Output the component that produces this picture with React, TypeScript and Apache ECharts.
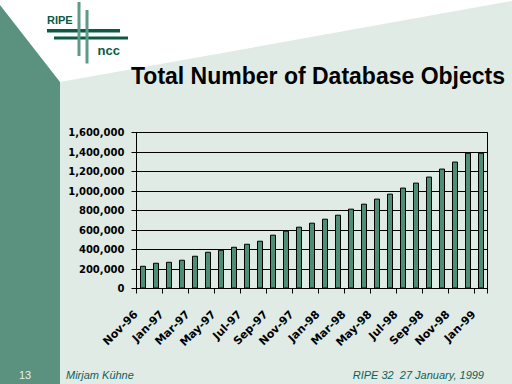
import React, { useEffect, useRef } from "react";
import * as echarts from "echarts";

const months: string[] = [
  "Nov-96", "Dec-96", "Jan-97", "Feb-97", "Mar-97", "Apr-97", "May-97", "Jun-97", "Jul-97",
  "Aug-97", "Sep-97", "Oct-97", "Nov-97", "Dec-97", "Jan-98", "Feb-98", "Mar-98", "Apr-98",
  "May-98", "Jun-98", "Jul-98", "Aug-98", "Sep-98", "Oct-98", "Nov-98", "Dec-98", "Jan-99",
];

const objectCounts: number[] = [
  233000, 264000, 274000, 295000, 336000, 377000, 397000, 428000, 459000,
  490000, 552000, 593000, 634000, 675000, 716000, 757000, 819000, 870000,
  922000, 973000, 1035000, 1086000, 1148000, 1230000, 1302000, 1392000, 1392000,
];

const titleText = "Total Number of Database Objects";
const footerPage = "13";
const footerAuthor = "Mirjam Kühne";
const footerEvent = "RIPE 32  27 January, 1999";

const STRIP = "#5a917f";
const LIGHT = "#dfebe4";
const BAR = "#4e8d78";
const LOGO_DARK = "#0b5a45";
const LOGO_LIGHT = "#5e9a85";
const FOOT = "#11605a";

export default function App() {
  const ref = useRef<HTMLDivElement>(null);
  useEffect(() => {
    if (!ref.current) return;
    const chart = echarts.init(ref.current, null, { renderer: "svg" });
    chart.setOption({
      animation: false,
      backgroundColor: "#ffffff",
      graphic: [
        { type: "polygon", z: -10, shape: { points: [[0, 5], [60, 82], [60, 384], [0, 384]] }, style: { fill: STRIP } },
        { type: "polygon", z: -10, shape: { points: [[60, 82], [512, 1], [512, 384], [60, 384]] }, style: { fill: LIGHT } },
        { type: "rect", z: 1, shape: { x: 47, y: 29, width: 73, height: 3.5 }, style: { fill: LOGO_DARK } },
        { type: "rect", z: 1, shape: { x: 54, y: 36.5, width: 74, height: 3 }, style: { fill: LOGO_DARK } },
        { type: "rect", z: 2, shape: { x: 77.5, y: 2, width: 3, height: 54 }, style: { fill: LOGO_LIGHT } },
        { type: "rect", z: 2, shape: { x: 85.5, y: 10, width: 3, height: 53.5 }, style: { fill: LOGO_LIGHT } },
        { type: "text", z: 3, x: 47, y: 14, style: { text: "RIPE", fill: LOGO_DARK, font: "bold 11px 'Liberation Sans', Arial, sans-serif", textVerticalAlign: "top" } },
        { type: "text", z: 3, x: 97.5, y: 44, style: { text: "ncc", fill: LOGO_DARK, font: "bold 13px 'Liberation Sans', Arial, sans-serif", textVerticalAlign: "top" } },
        { type: "text", z: 3, x: 318, y: 64, style: { text: titleText, fill: "#000", font: "bold 23px 'Liberation Sans', Arial, sans-serif", textAlign: "center", textVerticalAlign: "top" } },
        { type: "text", z: 3, x: 25, y: 369, style: { text: footerPage, fill: "#e8f0ec", font: "11px 'Liberation Sans', Arial, sans-serif", textAlign: "center", textVerticalAlign: "top" } },
        { type: "text", z: 3, x: 66, y: 369, style: { text: footerAuthor, fill: FOOT, font: "italic 11px 'Liberation Sans', Arial, sans-serif", textVerticalAlign: "top" } },
        { type: "text", z: 3, x: 484, y: 369, style: { text: footerEvent, fill: FOOT, font: "italic 11px 'Liberation Sans', Arial, sans-serif", textAlign: "right", textVerticalAlign: "top" } },
      ],
      grid: {
        left: 136.5,
        right: 24.5,
        top: 132.5,
        bottom: 95.5,
        show: true,
        backgroundColor: "transparent",
        borderColor: "#000",
        borderWidth: 1,
      },
      xAxis: {
        type: "category",
        data: months,
        axisLine: { lineStyle: { color: "#000", width: 1 } },
        axisTick: { show: true, interval: 1, length: 5, lineStyle: { color: "#000" } },
        axisLabel: {
          interval: 1,
          rotate: 45,
          margin: 17,
          color: "#000",
          fontFamily: "'DejaVu Sans', sans-serif",
          fontWeight: "bold",
          fontSize: 11,
          formatter: (v: string) => `${v}{s| }`,
          rich: { s: { width: 10, fontSize: 11 } },
        },
        splitLine: { show: false },
      },
      yAxis: {
        type: "value",
        min: 0,
        max: 1600000,
        interval: 200000,
        axisLine: { show: true, lineStyle: { color: "#000", width: 1 } },
        axisTick: { show: true, length: 5, lineStyle: { color: "#000" } },
        splitLine: { show: true, lineStyle: { color: "#000", width: 1 } },
        axisLabel: {
          margin: 12,
          color: "#000",
          fontFamily: "'DejaVu Sans', sans-serif",
          fontWeight: "bold",
          fontSize: 10,
          formatter: (v: number) => v.toLocaleString("en-US"),
        },
      },
      series: [
        {
          type: "bar",
          data: objectCounts,
          barWidth: 6,
          itemStyle: { color: BAR, borderColor: "#000", borderWidth: 1 },
        },
      ],
    });
    return () => chart.dispose();
  }, []);
  return (
    <div
      ref={ref}
      style={{ position: "fixed", left: 0, top: 0, width: 512, height: 384 }}
    />
  );
}
